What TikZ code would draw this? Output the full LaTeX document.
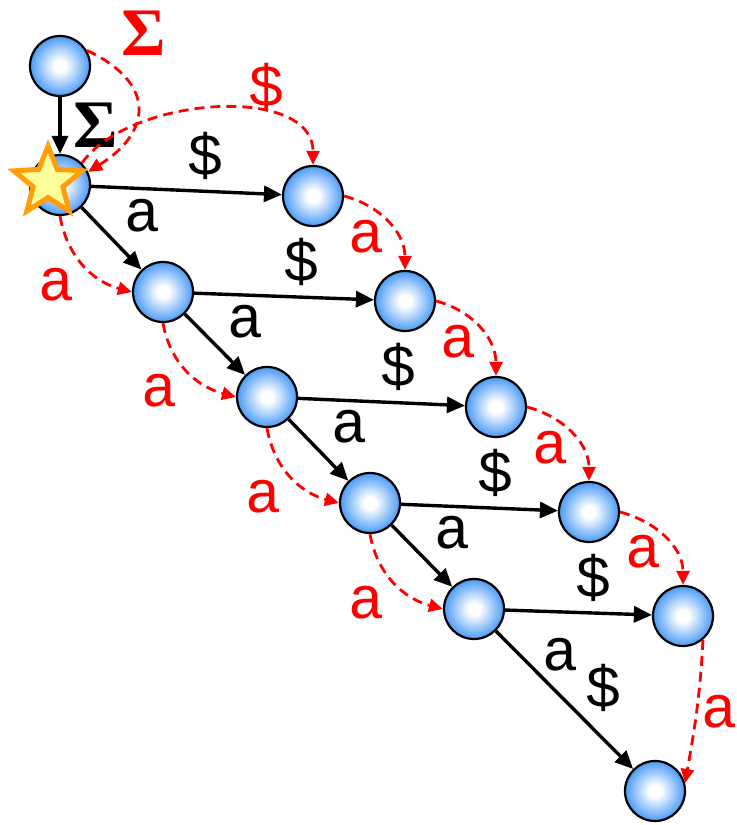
\documentclass[tikz,border=0pt]{standalone}
\usepackage{fontspec}
\setmainfont{Liberation Mono}
\newfontfamily\sigfont{Liberation Serif}
\usepackage{xcolor}
\definecolor{vizBall}{HTML}{4A9AF6}
\definecolor{vizFail}{HTML}{FF0000}
\definecolor{vizStarFill}{HTML}{FFFF99}
\definecolor{vizStarEdge}{HTML}{FF9E0A}
\usetikzlibrary{arrows.meta,shapes.geometric}
\pgfdeclareradialshading{vizBallShade}{\pgfpoint{0bp}{0bp}}{color(0bp)=(white); color(5bp)=(white); color(25bp)=(vizBall); color(50bp)=(vizBall)}

\begin{document}
\begin{tikzpicture}[x=0.5pt, y=0.5pt,
  state/.style={circle, draw, line width=1.1pt, minimum size=30pt, inner sep=0pt, shading=vizBallShade},
  edge/.style={line width=1.7pt, -{Triangle[length=9pt,width=8pt]}},
  fail/.style={vizFail, dash pattern=on 5pt off 3pt, line width=1.4pt, -{Triangle[length=7pt,width=6.5pt]}},
  lab/.style={font=\fontsize{30}{30}\selectfont, inner sep=1pt},
  flab/.style={lab, text=vizFail},
  sig/.style={font=\sigfont\bfseries\fontsize{34}{34}\selectfont, inner sep=0pt}]
  \useasboundingbox (0,0) rectangle (737,-825);
  \node[state] (I) at (60,-66) {};
  \node[state] (A0) at (60,-185) {};
  \node[state] (A1) at (163,-292) {};
  \node[state] (A2) at (267,-397) {};
  \node[state] (A3) at (370,-503) {};
  \node[state] (A4) at (474,-609) {};
  \node[state] (B1) at (313,-196) {};
  \node[state] (B2) at (405,-301) {};
  \node[state] (B3) at (496,-407) {};
  \node[state] (B4) at (589,-512) {};
  \node[state] (B5) at (683,-616) {};
  \node[state] (F) at (655,-791) {};
  \node[star, star points=5, star point ratio=2.3, minimum size=36pt, inner sep=0pt, fill=vizStarFill, draw=vizStarEdge, line width=2.5pt] (star) at (48,-182) {};
  \draw[edge] (I) -- node[sig, right=6pt] {Σ} (A0);
  \draw[edge] (A0) -- node[lab, above right, pos=0.45, xshift=6pt] {a} (A1);
  \draw[edge] (A1) -- node[lab, above right, pos=0.45, xshift=6pt] {a} (A2);
  \draw[edge] (A2) -- node[lab, above right, pos=0.45, xshift=6pt] {a} (A3);
  \draw[edge] (A3) -- node[lab, above right, pos=0.45, xshift=6pt] {a} (A4);
  \draw[edge] (A4) -- node[lab, right=10pt, pos=0.17] {a} node[lab, right=15pt, pos=0.41] {\$} (F);
  \draw[edge] (A0) -- node[lab, above=4pt, pos=0.6] {\$} (B1);
  \draw[edge] (A1) -- node[lab, above=4pt, pos=0.6] {\$} (B2);
  \draw[edge] (A2) -- node[lab, above=4pt, pos=0.6] {\$} (B3);
  \draw[edge] (A3) -- node[lab, above=4pt, pos=0.6] {\$} (B4);
  \draw[edge] (A4) -- node[lab, above=4pt, pos=0.6] {\$} (B5);
  \draw[fail] (I.30) to[out=-25, in=32, looseness=1.6] node[sig, text=vizFail, pos=0.08, above right, xshift=9pt, yshift=1pt] {Σ} (A0.25);
  \draw[fail] (A0.45) to[out=55, in=90, looseness=0.9] node[flab, above, pos=0.68] {\$} (B1.90);
  \draw[fail] (A0.270) to[out=-80, in=165] node[flab, below left, xshift=-3pt] {a} (A1.180);
  \draw[fail] (A1.270) to[out=-80, in=165] node[flab, below left, xshift=-3pt] {a} (A2.180);
  \draw[fail] (A2.270) to[out=-80, in=165] node[flab, below left, xshift=-3pt] {a} (A3.180);
  \draw[fail] (A3.270) to[out=-80, in=165] node[flab, below left, xshift=-3pt] {a} (A4.180);
  \draw[fail] (B1.0) to[out=-15, in=90] node[flab, below left, yshift=3pt] {a} (B2.90);
  \draw[fail] (B2.0) to[out=-15, in=90] node[flab, below left, yshift=3pt] {a} (B3.90);
  \draw[fail] (B3.0) to[out=-15, in=90] node[flab, below left, yshift=3pt] {a} (B4.90);
  \draw[fail] (B4.0) to[out=-15, in=90] node[flab, below left, yshift=3pt] {a} (B5.90);
  \draw[fail] (B5.-50) to[out=-93, in=80] node[flab, right=1pt] {a} (F.15);
\end{tikzpicture}
\end{document}
